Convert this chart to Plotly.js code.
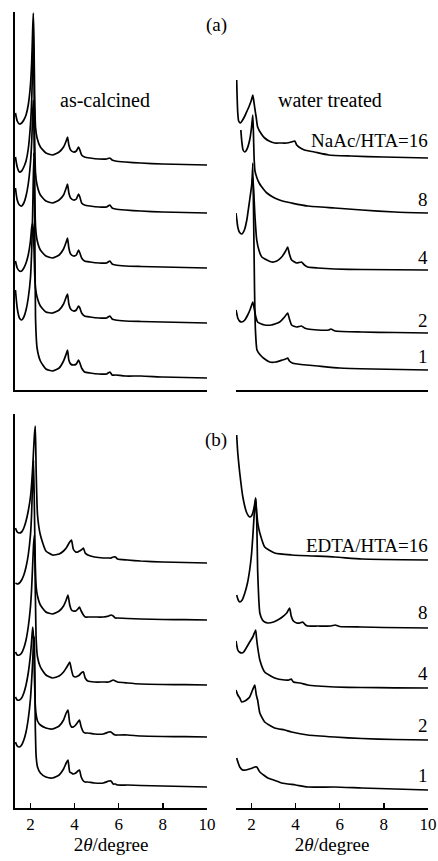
<!DOCTYPE html>
<html><head><meta charset="utf-8">
<script src="https://cdn.plot.ly/plotly-3.0.1.min.js"></script>
<style>html,body{margin:0;padding:0;background:#fff}</style>
</head><body><div id="chart" style="width:438px;height:861px"></div>
<script>
// ratio labels (top to bottom in each panel)
const ratios = ["16", "8", "4", "2", "1"];
const tickVals = [2, 4, 6, 8, 10];
const tickText = ["2", "4", "6", "8", "10"];

// ---------- (a) as-calcined : shared 2theta grid ----------
const xAcal = [1.32,1.4,1.5,1.6,1.7,1.8,1.9,2.0,2.06,2.1,2.13,2.16,2.19,2.23,2.3,2.45,2.7,3.0,3.3,3.5,3.62,3.68,3.74,3.82,3.95,4.08,4.18,4.24,4.32,4.45,4.7,5.1,5.45,5.6,5.7,5.85,6.3,7,8,9,10];
const yAcal16 = [52,44,41,42,45,50,60,80,105,135,152,125,70,38,27,18,12,10,13,18,24,28,20,15,13,14,18,15,10,8,7,6,6,7,5,4,3,2,1,0.5,0];
const yAcal8  = [56,46,41,42,46,52,64,88,115,150,175,140,75,40,28,18,12,10,13,18,25,29,20,15,13,14,19,16,10,8,7,6,6,8,5,4,3,2,1,0.5,0];
const yAcal4  = [80,68,63,62,65,72,84,105,128,155,168,140,80,42,28,18,12,10,13,19,26,30,20,14,12,13,18,15,10,7,6,5,5,7,4,3,2,1.5,1,0.5,0];
const yAcal2  = [62,55,52,52,55,60,68,82,96,100,92,75,50,35,26,17,11,10,13,19,26,29,19,14,12,13,17,15,10,7,6,5,5,7,4,3,2,1.5,1,0.5,0];
const yAcal1  = [88,70,60,58,61,68,80,100,130,165,200,225,180,60,30,17,9,7,10,17,24,28,18,14,13,14,18,15,10,6,5,4,4,6,3,3,2,2,1,0.5,0];
const offAcal = [225, 177, 122, 67, 12];

// ---------- (b) as-calcined : shared 2theta grid ----------
const xBcal = [1.32,1.4,1.5,1.6,1.7,1.8,1.9,2.0,2.05,2.1,2.14,2.18,2.22,2.26,2.32,2.45,2.7,3.0,3.3,3.5,3.62,3.7,3.78,3.86,3.94,4.05,4.15,4.22,4.3,4.4,4.48,4.6,4.9,5.3,5.55,5.65,5.75,5.85,5.95,6.4,7,8,9,10];
const yBcal16 = [35,31,30,31,35,42,52,66,78,95,112,128,137,90,48,28,12,8,9,12,15,18,21,23,14,11,11,12,13,15,10,8,6,5,5,5,6,6,4,3,2,1,0.5,0];
const yBcal8  = [37,36,37,40,45,53,65,85,105,140,160,110,55,33,24,15,8,6,9,14,20,25,15,10,9,9,11,13,9,5,3,3,3,3,4,5,4,2,2,1.5,1,0.5,0.3,0];
const yBcal4  = [33,30,30,32,37,45,58,78,95,120,140,150,95,45,28,18,10,7,9,13,17,20,23,15,9,8,9,10,12,13,7,4,3,3,3,4,5,4,3,2,1,0.5,0.3,0];
const yBcal2  = [40,37,37,39,44,52,64,82,95,110,100,60,32,22,16,12,9,8,11,17,24,27,14,10,10,12,15,17,10,5,4,4,3,3,5,5,3,2,2,2,1,0.5,0.3,0];
const yBcal1  = [45,41,40,42,47,55,68,88,105,125,145,150,60,30,20,14,10,9,12,18,24,27,15,14,13,14,16,17,10,6,5,5,4,4,6,6,3,3,2,2,1.5,1,0.5,0];
const offBcal = [245, 188, 123, 71, 21];

// ---------- (a) water treated ----------
const xAw16 = [1.33,1.35,1.38,1.42,1.5,1.6,1.7,1.8,1.9,2.0,2.06,2.1,2.15,2.22,2.28,2.45,2.6,2.8,3.05,3.3,3.6,3.8,3.96,4.05,4.15,4.4,4.85,5.5,6.5,8,10];
const yAw16 = [78,62,45,37,35,38,42,47,52,58,63,58,50,40,31,24,20,17,15,15,15,16,17,13,11,8,6,3,2,1,0];
const xAw8  = [1.52,1.56,1.62,1.7,1.8,1.92,2.0,2.06,2.09,2.12,2.16,2.25,2.35,2.47,2.7,3.05,3.4,3.82,4.55,5.77,7,8.5,10];
const yAw8  = [83,72,63,61,64,73,85,98,80,55,42,35,30,26,20,15,12,10,7,5,3,1,0];
const xAw4  = [1.3,1.34,1.38,1.45,1.56,1.68,1.79,1.92,2.0,2.06,2.1,2.15,2.24,2.35,2.47,2.7,2.92,3.15,3.37,3.55,3.64,3.72,3.82,4.05,4.27,4.4,4.55,5.0,5.77,7,10];
const yAw4  = [57,50,43,38,36,40,50,70,83,93,80,57,30,19,13,10,8,9,13,19,23,16,10,7,8,5,3,2,1,0.5,0];
const xAw2  = [1.3,1.34,1.38,1.46,1.56,1.7,1.83,1.95,2.06,2.12,2.2,2.28,2.45,2.6,2.9,3.28,3.5,3.64,3.72,3.82,4.05,4.27,4.4,4.55,5.0,5.5,5.6,5.8,7,8.5,10];
const yAw2  = [23,19,15,12,11,13,18,24,31,25,16,11,9,8,8,11,16,20,14,8,6,7,5,4,3,3,4,2,1,0.5,0];
const xAw1  = [2.02,2.06,2.1,2.14,2.18,2.25,2.4,2.6,2.83,3.1,3.4,3.55,3.64,3.72,3.85,4.1,4.5,5.0,6.0,7.5,10];
const yAw1  = [185,207,150,80,40,20,15,11,8,8,10,11,12,9,7,6,5,4,2,1,0];
const offAw = [232, 177, 120, 57, 20];

// ---------- (b) water treated ----------
const xBw16 = [1.33,1.38,1.47,1.61,1.79,1.92,2.0,2.06,2.14,2.19,2.24,2.3,2.38,2.6,3.05,3.82,5.77,7,10];
const yBw16 = [125,107,87,63,47,43,44,47,55,62,47,35,27,13,7,5,3,1,0];
const xBw8  = [1.33,1.4,1.47,1.58,1.7,1.82,1.92,2.0,2.06,2.12,2.19,2.24,2.28,2.33,2.38,2.5,2.6,2.74,3.0,3.19,3.4,3.6,3.73,3.8,3.9,4.05,4.2,4.32,4.45,4.55,5.0,5.6,5.8,6.0,7,8,10];
const yBw8  = [33,28,26,28,35,45,58,73,91,112,130,108,58,30,15,8,6,5,6,8,11,15,20,12,7,5,5,6,3,2,2,2,3,1.5,1,0.5,0];
const xBw4  = [1.3,1.38,1.45,1.56,1.65,1.79,1.92,2.06,2.19,2.23,2.28,2.38,2.6,3.05,3.5,3.7,3.8,3.9,4.2,4.55,5.0,5.77,7,8.5,10];
const yBw4  = [47,38,36,35,36,41,46,51,58,50,41,28,16,10,8,8,9,6,5,3,2,1,0.5,0.2,0];
const xBw2  = [1.3,1.38,1.47,1.56,1.7,1.83,1.92,2.05,2.15,2.22,2.28,2.38,2.6,3.05,3.5,3.82,4.55,5.77,7,8.5,10];
const yBw2  = [50,45,42,38,39,41,43,50,55,45,40,27,18,12,10,8,5,3,1.5,0.5,0];
const xBw1  = [1.33,1.4,1.47,1.6,1.75,1.9,2.05,2.15,2.24,2.3,2.38,2.55,2.74,3.0,3.37,4.0,4.55,5.77,7,8.5,10];
const yBw1  = [32,27,23,20,20,21,22,23,23,21,18,15,12,10,7,5,3,3,2,1,0];
const offBw = [248, 180, 120, 68, 18];

// ---------- build traces ----------
const traces = [];
function addSet(xList, yList, offs, xa, ya) {
  for (let i = 0; i < yList.length; i++) {
    traces.push({
      x: xList[i], y: yList[i].map(v => v + offs[i]),
      xaxis: xa, yaxis: ya, type: 'scatter', mode: 'lines',
      line: {color: '#000', width: 1.7, shape: 'spline', smoothing: 0.5},
      name: ratios[i], showlegend: false, hoverinfo: 'skip'
    });
  }
}
addSet([xAcal,xAcal,xAcal,xAcal,xAcal], [yAcal16,yAcal8,yAcal4,yAcal2,yAcal1], offAcal, 'x', 'y');
addSet([xAw16,xAw8,xAw4,xAw2,xAw1], [yAw16,yAw8,yAw4,yAw2,yAw1], offAw, 'x2', 'y2');
addSet([xBcal,xBcal,xBcal,xBcal,xBcal], [yBcal16,yBcal8,yBcal4,yBcal2,yBcal1], offBcal, 'x3', 'y3');
addSet([xBw16,xBw8,xBw4,xBw2,xBw1], [yBw16,yBw8,yBw4,yBw2,yBw1], offBw, 'x4', 'y4');

const W = 438, H = 861;
const FONT = '"Liberation Serif", "Times New Roman", serif';
const px = v => v / W, py = v => 1 - v / H;

const baseX = {range: [1.3, 10], showgrid: false, zeroline: false, showline: true,
  linecolor: '#000', linewidth: 1.6, fixedrange: true};
const noTicks = Object.assign({}, baseX, {showticklabels: false, ticks: ''});
const withTicks = Object.assign({}, baseX, {tickmode: 'array', tickvals: tickVals, ticktext: tickText,
  ticks: 'inside', ticklen: 5, tickwidth: 1.4, tickcolor: '#000',
  tickfont: {family: FONT, size: 17, color: '#000'},
  title: {text: '2<i>θ</i>/degree', font: {family: FONT, size: 19, color: '#000'}, standoff: 0}});

const topDom = [py(390), py(12)], botDom = [py(808), py(414)];
const leftDom = [px(15), px(207)], rightDom = [px(236), px(428)];
const yBase = {showgrid: false, zeroline: false, showticklabels: false, ticks: '', fixedrange: true,
  linecolor: '#000', linewidth: 1.6};

const layout = {
  width: W, height: H, margin: {l: 0, r: 0, t: 0, b: 0},
  paper_bgcolor: '#fff', plot_bgcolor: '#fff', showlegend: false,
  font: {family: FONT, color: '#000'},
  xaxis:  Object.assign({}, noTicks, {domain: leftDom, anchor: 'y'}),
  xaxis2: Object.assign({}, noTicks, {domain: rightDom, anchor: 'y2'}),
  xaxis3: Object.assign({}, withTicks, {domain: leftDom, anchor: 'y3'}),
  xaxis4: Object.assign({}, withTicks, {domain: rightDom, anchor: 'y4'}),
  yaxis:  Object.assign({}, yBase, {domain: topDom, range: [0, 378], showline: true, anchor: 'x'}),
  yaxis2: Object.assign({}, yBase, {domain: topDom, range: [0, 378], showline: false, anchor: 'x2'}),
  yaxis3: Object.assign({}, yBase, {domain: botDom, range: [0, 394], showline: true, anchor: 'x3'}),
  yaxis4: Object.assign({}, yBase, {domain: botDom, range: [0, 394], showline: false, anchor: 'x4'}),
  annotations: []
};
function note(text, x, y, xanchor, size) {
  layout.annotations.push({text: text, xref: 'paper', yref: 'paper', x: x, y: y,
    xanchor: xanchor, yanchor: 'middle', showarrow: false,
    font: {family: FONT, size: size, color: '#000'}});
}
note('(a)', px(216), py(25), 'center', 19);
note('(b)', px(216), py(440), 'center', 19);
note('as-calcined', px(105), py(100), 'center', 20);
note('water treated', px(330), py(100), 'center', 20);
const labA = ['NaAc/HTA=' + ratios[0], ratios[1], ratios[2], ratios[3], ratios[4]];
const labAy = [140, 200, 257, 320, 357];
const labB = ['EDTA/HTA=' + ratios[0], ratios[1], ratios[2], ratios[3], ratios[4]];
const labBy = [545, 612, 673, 725, 775];
labA.forEach((t, i) => note(t, px(430), py(labAy[i]), 'right', 19));
labB.forEach((t, i) => note(t, px(430), py(labBy[i]), 'right', 19));

Plotly.newPlot('chart', traces, layout, {staticPlot: true, displayModeBar: false});
</script></body></html>
